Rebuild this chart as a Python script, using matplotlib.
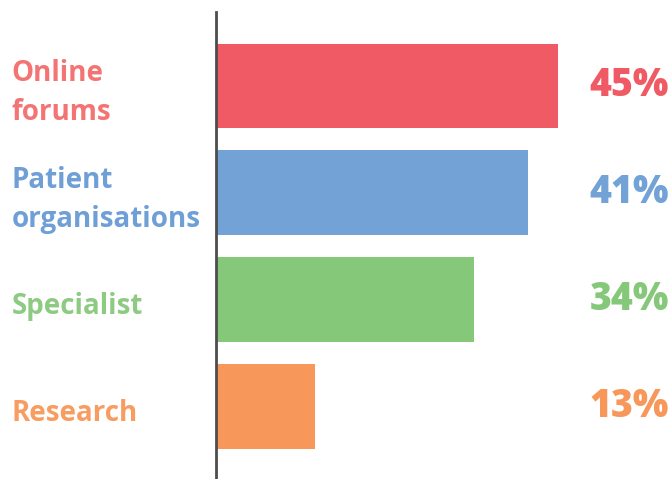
import matplotlib.pyplot as plt

categories = ["Online\nforums", "Patient\norganisations", "Specialist", "Research"]
values = [45, 41, 34, 13]
bar_colors = ["#F05A64", "#72A2D6", "#86C879", "#F7975A"]
label_colors = ["#F47474", "#6E9FD6", "#8ECB82", "#F89D62"]

fig = plt.figure(figsize=(6.72, 4.79), dpi=100)
ax = fig.add_axes([216 / 672, 0, 1 - 216 / 672, 1 - 12 / 479])

ypos = list(range(len(values)))
ax.barh(ypos, values, height=0.79, color=bar_colors)

ax.set_xlim(0, 60)
ax.set_ylim(3.68, -0.69)

for y, cat, v, c in zip(ypos, categories, values, label_colors):
    ax.text(-(216 - 12) / 7.58, y + 0.07, cat, ha="left", va="center",
            fontsize=20, fontweight="bold", family="Open Sans", color=c,
            linespacing=1.45)
    ax.text(59.6, y, f"{v}%", ha="right", va="center", fontsize=27,
            fontweight="heavy", family="Open Sans", color=bar_colors[y])

for s in ["top", "right", "bottom"]:
    ax.spines[s].set_visible(False)
ax.spines["left"].set_color("#4d4d4d")
ax.spines["left"].set_linewidth(2)
ax.set_xticks([])
ax.set_yticks([])

fig.savefig("out.png", dpi=100)
